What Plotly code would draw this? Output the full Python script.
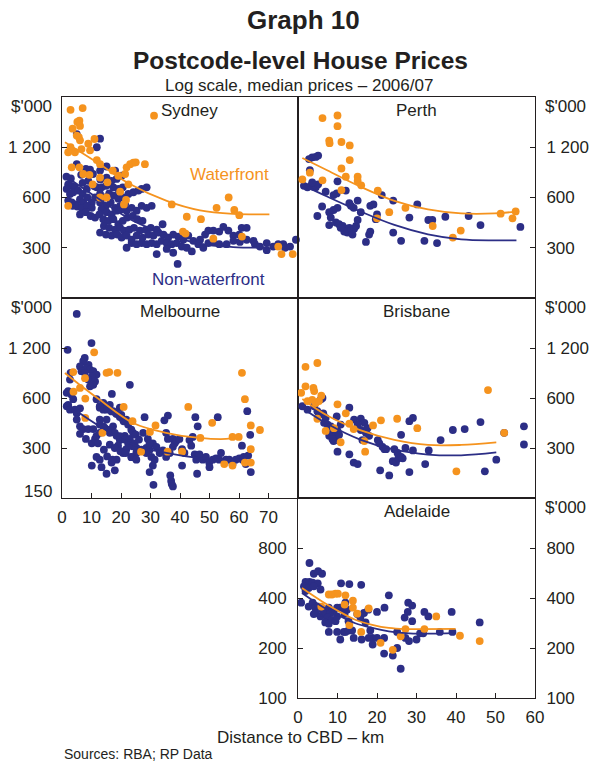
import math
import plotly.graph_objects as go

# ---------------- data: (distance to CBD km, median price $'000) ----------------
SYD_NONWATER = [
    (5, 1440), (12.9, 1350), (11.8, 1200), (5, 950), (8.1, 890), (15.1, 920), (18, 870), (12.9, 870), (8.9, 755),
    (2.1, 720), (3.3, 705), (4.4, 690), (1.6, 675), (2.7, 630), (3.8, 645), (5.5, 660), (7, 630), (8.4, 675),
    (2.1, 575), (3.3, 560), (4.7, 545), (6.1, 585), (7.2, 560), (8.6, 600), (10.1, 560), (11.2, 600),
    (3.6, 535), (5.2, 530), (6.7, 520), (8.6, 535), (10.1, 520),
    (11.8, 690), (13.4, 690), (14.9, 705), (16.3, 720), (17.4, 690), (19.1, 675), (20.6, 690),
    (12.9, 630), (14.6, 600), (16, 635), (17.6, 615), (19.1, 590), (20.8, 600), (22.5, 630), (24.2, 645),
    (25.9, 660), (27, 675), (28.7, 690),
    (15.1, 790), (16.8, 755), (18.5, 775), (20.2, 810),
    (12.9, 560), (14.9, 535), (16.5, 560), (18, 520), (19.7, 535), (21.4, 550),
    (13.4, 510), (15.1, 490), (16.8, 475), (18.5, 500), (20.2, 510), (21.9, 500), (23.6, 520), (25.3, 500),
    (27, 535), (28.7, 520), (30.4, 535),
    (6.1, 475), (8.1, 490), (9.7, 465), (11.2, 455), (12.7, 475),
    (14, 445), (15.7, 435), (17.4, 445), (19.1, 415), (20.6, 435), (22.1, 455), (24, 465), (25.5, 445), (27.3, 435),
    (14.2, 405), (16, 395), (18, 385), (19.7, 395), (21, 380), (22.8, 385), (24.4, 395), (26.4, 380), (28.4, 385),
    (30.1, 395), (32.1, 385), (34.1, 415),
    (12.9, 370), (14.9, 360), (16.8, 355), (18.8, 360), (20.2, 345), (21.9, 355), (23.6, 335), (25.3, 355),
    (27.3, 345), (29.3, 360), (31, 355), (32.7, 370), (34.4, 360), (36, 345), (37.7, 360), (39.4, 350),
    (41.1, 335), (42.8, 355), (44.5, 330), (46.8, 335), (48.5, 360), (49.6, 380), (51.3, 380), (53.3, 375),
    (54.7, 400), (56.4, 380), (58.1, 355), (60.1, 360), (60.9, 395), (62.6, 395),
    (21.9, 300), (23.6, 320), (25.3, 315), (27, 320), (28.7, 315), (30.4, 320), (32.1, 315), (33.8, 330),
    (35.5, 320), (37.2, 315), (38.9, 320), (40.6, 305), (42.3, 300), (44, 285), (46.2, 315), (47.9, 300),
    (49.6, 320), (51.3, 325), (53.3, 315), (55.8, 315), (58.1, 330), (60.3, 325), (62.6, 335), (64.9, 330),
    (65.4, 315), (67.1, 305), (69.4, 320), (69.4, 290), (71.6, 305), (73.3, 315), (75, 315), (75.6, 300),
    (77.3, 305), (79.3, 335),
    (32.1, 275), (39.2, 240), (37.7, 280), (35.5, 295),
    (1.5, 800), (3, 780), (6.5, 820), (9.5, 880), (10.5, 830), (7, 735), (11, 700), (13, 770),
]
SYD_WATER = [
    (5, 2410), (2.9, 2010), (7, 2060), (5.2, 1700), (5.9, 1730), (3.6, 1550), (6.1, 1610), (5, 1410), (5.7, 1380),
    (6.1, 1320), (11, 1345), (2.9, 1200), (2.1, 1120), (4.4, 1120), (6.6, 1170), (8.9, 1260), (9.5, 1150),
    (11.8, 1005), (12.9, 950), (3.3, 910), (5.9, 910), (7.2, 830), (9.3, 820), (10.4, 720), (12.9, 790),
    (15.4, 740), (15.1, 600), (17.2, 870), (19.1, 810), (21.4, 830), (21.9, 910), (23.1, 950), (24.2, 970),
    (25, 975), (28.1, 950), (22.5, 720), (19.7, 650), (21.7, 580), (21, 545), (2.1, 535), (12.9, 600),
    (31.2, 1855), (37.2, 545), (42.3, 460), (41, 375), (41.9, 365), (47.1, 445), (51.3, 340), (52.4, 520),
    (56.5, 600), (58.4, 505), (60.1, 470), (61, 350), (73.3, 305), (74.4, 275), (78.2, 275),
]
SYD_FIT_W_KM = [1, 11.8, 23, 35.5, 46.8, 58, 70.3]
SYD_FIT_W = [1286, 975, 722, 572, 502, 479, 476]
SYD_FIT_N_KM = [1, 12.9, 24.2, 35.5, 46.8, 58, 70]
SYD_FIT_N = [810, 582, 434, 361, 317, 303, 300]

PER_NONWATER = [
    (2.8, 1020), (3.6, 1045), (4.5, 1050), (5.1, 1070), (3, 875), (1.5, 705), (2.4, 690), (3.2, 705), (3.9, 695),
    (4.5, 690), (5.1, 720), (3.6, 740), (7, 650), (9, 620), (9.8, 635), (10, 750), (12.1, 660), (13, 555),
    (13.4, 535), (15.1, 575), (14.1, 520), (10, 520), (9, 505), (7.9, 490), (8.3, 455), (7.9, 410), (9.6, 425),
    (10.4, 415), (11.3, 405), (12.1, 390), (12.5, 370), (13, 395), (13.4, 380), (14.2, 390), (14.7, 405),
    (13.8, 360), (11.7, 375), (10.8, 395), (15.1, 440), (6.1, 530), (4.9, 465), (15.9, 490), (17.2, 325),
    (18, 360), (18.3, 375), (18.3, 535), (19.1, 545), (20, 475), (19.7, 445), (21.2, 620), (24.1, 575),
    (24.1, 370), (26.1, 330), (28.2, 455), (30.2, 545), (32, 330), (33, 440), (34, 440), (35.2, 320),
    (37.3, 460), (43.2, 465), (46.2, 410), (56.3, 400),
]
PER_WATER = [
    (6.2, 1795), (10, 1860), (10, 1605), (7.9, 1315), (8, 1270), (11, 1290), (13.1, 1230), (13.1, 1005),
    (11, 895), (12.1, 800), (15.1, 800), (15.1, 755), (16, 710), (1.1, 770), (3, 845), (6.2, 760), (11, 665),
    (20.2, 660), (20, 450), (23.1, 490), (27.2, 520), (34.1, 405), (39.2, 345), (41.2, 380), (51.3, 480),
    (55.1, 495), (54.3, 450),
]
PER_FIT_KM = [1.1, 7.5, 15.9, 24.4, 32.9, 41.3, 49.8, 55.3]
PER_FIT_W = [1035, 870, 695, 573, 509, 482, 482, 494]
PER_FIT_N = [714, 606, 494, 411, 361, 337, 332, 332]

MEL_NONWATER = [
    (5, 1925), (1.9, 1170), (10, 1285),
    (7.7, 1045), (7.2, 1000), (9, 950), (6.1, 930), (8.3, 910), (9.5, 890), (10.6, 870), (11.7, 830), (10.1, 810),
    (6.6, 870), (7.7, 850), (8.9, 775), (11.2, 755), (10.6, 720), (9.5, 705),
    (2.9, 850), (2.7, 775), (2.1, 660), (1.6, 645), (3.2, 630), (3.8, 590), (2.1, 545), (1.6, 535), (2.7, 510),
    (4.4, 510), (6.1, 520), (5, 485),
    (5, 445), (6.1, 405), (7.2, 390), (8.9, 390), (6.1, 365), (8.1, 340),
    (10.1, 320), (11.2, 340), (11.7, 355), (12.8, 370), (14, 405), (15.1, 445), (10.6, 390), (12.8, 445),
    (12.2, 320), (11.7, 265), (12.8, 255), (13.4, 230), (15.1, 210), (16.8, 245), (18.5, 255), (17.9, 220),
    (10.1, 235),
    (11.7, 590), (14, 560), (16.2, 545), (12.8, 525), (15.1, 510), (17.3, 500), (18.5, 480), (19.6, 525),
    (20.1, 475), (20.7, 445), (21.8, 445), (17.3, 405), (16.2, 370), (18.5, 355), (19.6, 335), (21.3, 355),
    (21.8, 295), (23, 340), (24.1, 370), (24.6, 320), (25.2, 280), (23.6, 265), (20.7, 280), (19, 310),
    (23, 720), (16.9, 635), (28, 460),
    (12.8, 535), (14, 510), (15.3, 522), (16.8, 498), (18.2, 487), (19.6, 461), (20.9, 434), (22.4, 415),
    (23.5, 387), (25, 361), (26.1, 337), (12.8, 415), (14.5, 396), (16.2, 387), (17.9, 370), (19.6, 353),
    (21.3, 337), (22.4, 321), (23.9, 307), (25.2, 300), (26.9, 293), (28.6, 300), (29.7, 293), (16.2, 314),
    (17.9, 300), (19.8, 287), (21.6, 280), (23.5, 264), (25.2, 255), (15.3, 267), (17.1, 255), (14.2, 293),
    (27.5, 370), (29.1, 340), (30.8, 320), (32, 305), (33.1, 280), (29.7, 320), (28.6, 280), (30.3, 265),
    (31.4, 255), (34.2, 290), (35.3, 265), (36.5, 280), (37.6, 305), (38.2, 320), (35.9, 340), (35.3, 370),
    (35.9, 470), (34.7, 440), (37.6, 340), (38.7, 330), (39.8, 340), (40.7, 295), (41.5, 280), (43.2, 335),
    (44.3, 350), (43.8, 310), (45, 275), (45.5, 255), (46.6, 275), (47.7, 255), (48.8, 265), (49.9, 245),
    (51.1, 255), (52.2, 260), (53.3, 255), (53.9, 280), (55.6, 255), (56.7, 255), (57.8, 240), (58.9, 255),
    (60.1, 260), (61.2, 255), (62.3, 240), (63.1, 270), (64, 215),
    (31, 180), (29.7, 215), (30.8, 235), (37, 190), (37.2, 182), (37.6, 176), (36.7, 205), (40.7, 235),
    (45.8, 210), (50, 230),
    (45.2, 460), (46, 405), (52.8, 460),
    (62.8, 500), (63.8, 360), (61, 310), (61.6, 265),
]
MEL_WATER = [
    (10.9, 1130), (3.8, 860), (15.1, 850), (16, 860), (18.8, 850), (7.8, 790), (6.1, 690), (3.9, 655), (7.9, 595),
    (7.9, 455), (20.9, 530), (23.9, 435), (13.7, 370), (29.8, 375), (31.7, 410), (26.8, 285), (35.8, 285),
    (40.7, 285), (42.8, 530), (50.9, 425), (46.9, 345), (55, 240), (57.8, 235), (57.8, 350), (59.9, 350),
    (61, 850), (62, 590), (64, 410), (67.1, 385), (64, 295), (62, 245), (64, 245),
]
MEL_FIT_W_KM = [1, 7.2, 12.8, 24.1, 35.3, 46.6, 55.6, 60.1]
MEL_FIT_W = [849, 694, 585, 424, 370, 345, 340, 349]
MEL_FIT_N_KM = [1, 12.8, 24.1, 35.3, 46.6, 60.1]
MEL_FIT_N = [560, 405, 314, 280, 261, 255]

BRI_NONWATER = [
    (6.2, 600), (4.9, 500), (5.3, 475), (7, 455), (6.6, 425), (7.5, 415), (8.3, 405), (8.7, 370), (9.1, 355),
    (9.6, 335), (9, 330), (10, 380), (10.4, 360), (9.8, 465), (10.8, 415), (7.9, 355), (8.7, 340), (13, 525),
    (14.2, 445), (15.9, 450), (16.8, 425), (15.1, 415), (15.9, 385), (17.6, 395), (17.2, 370), (18, 355),
    (16.3, 335), (20.2, 335), (20.6, 320), (21.4, 305), (21.9, 295), (22.3, 295), (13, 275), (14.1, 245),
    (15.1, 240), (10, 285), (20.8, 220), (23.1, 205), (24, 250), (24.8, 245), (25.4, 260), (24.4, 295),
    (25.2, 280), (26.1, 265), (26.5, 260), (27.2, 300), (26.1, 360), (28.2, 435), (29.1, 455), (29.1, 290),
    (28.2, 215), (32.2, 240), (33.1, 290), (36.1, 335), (39.2, 385), (42.2, 390), (46.2, 430), (47.3, 217),
    (50.2, 255), (52.2, 370), (57.2, 405), (57.2, 315),
    (1.1, 535), (2.4, 510), (4.1, 535), (5.8, 590), (6.4, 485),
]
BRI_WATER = [
    (1.9, 925), (4.9, 975), (0.8, 645), (1.9, 705), (3.9, 690), (4.1, 660), (5.9, 620), (2.4, 575), (3.6, 585),
    (4.5, 560), (5.3, 575), (4.9, 450), (7, 380), (9.1, 395), (10, 550), (12.1, 485), (10.8, 325), (13, 420),
    (14.1, 390), (16.8, 330), (17, 285), (19, 410), (21, 440), (25.1, 450), (30.2, 395), (40.1, 217),
    (48.1, 670), (52.2, 370),
]
BRI_FIT_KM = [1.1, 7.5, 15.9, 24.4, 32.9, 41.3, 50.2]
BRI_FIT_W = [592, 469, 383, 336, 313, 313, 324]
BRI_FIT_N = [523, 418, 336, 293, 274, 271, 282]

ADE_NONWATER = [
    (2.9, 650), (1.9, 500), (2.9, 500), (3.7, 495), (5, 490), (4, 560), (5.1, 580), (6.1, 560), (1.5, 470),
    (2.7, 460), (4, 470), (5.7, 450), (1.9, 440), (0.8, 375), (2.7, 355), (3.7, 375), (4.4, 350), (5.2, 355),
    (6.1, 340), (4, 320), (4.4, 325), (5.7, 310), (6.5, 325), (6.9, 330), (7.8, 350), (8.2, 325), (7.4, 305),
    (6.9, 285), (7.8, 280), (8.6, 295), (9.5, 290), (9.9, 310), (9, 330), (9.9, 350), (10.7, 350), (11.6, 345),
    (7.8, 250), (10.9, 490), (13, 485), (16, 480), (12, 375), (12.4, 340), (11.8, 320), (12.8, 290), (9.9, 250),
    (10.7, 225), (11.6, 250), (12, 250), (12.8, 255), (13.7, 255), (14.1, 230), (15, 320), (15.8, 305),
    (16.7, 325), (17.1, 285), (17.8, 340), (18.3, 255), (18.8, 230), (17.9, 230), (18.9, 210), (16.1, 225),
    (20, 330), (20, 230), (21.8, 230), (21.9, 350), (23, 415), (21.8, 185), (24, 180), (25.1, 200), (26, 150),
    (25.1, 250), (27, 305), (27.9, 375), (27.8, 330), (28.9, 360), (28.9, 290), (27.2, 230), (28.1, 220),
    (30, 225), (30.9, 245), (31.7, 245), (32, 330), (33, 310), (35.9, 250), (38.9, 330), (39.1, 250), (46, 285),
]
ADE_WATER = [
    (5.9, 355), (7.8, 420), (8.6, 420), (9.5, 425), (10.1, 425), (12, 415), (11.8, 365), (13.9, 385),
    (13.9, 350), (15, 322), (13, 275), (16, 250), (17.9, 346), (20.9, 215), (24, 195), (26, 235), (27.2, 260),
    (32, 260), (35, 310), (41, 237), (46, 220),
]
ADE_FIT_KM = [1, 6.1, 10.3, 14.5, 18.8, 23, 27.2, 31.4, 39.9]
ADE_FIT_W = [459, 381, 333, 296, 276, 264, 260, 260, 261]
ADE_FIT_N = [429, 356, 314, 282, 264, 252, 246, 244, 246]

PANELS = ["Sydney", "Perth", "Melbourne", "Brisbane", "Adelaide"]
TICKS_A = [300, 600, 1200]
TICKS_A_TEXT = ["300", "600", "1 200"]
TICKS_B = [100, 200, 400, 800]
TICKS_B_TEXT = ["100", "200", "400", "800"]
X_TICKS_MEL = [0, 10, 20, 30, 40, 50, 60, 70]
X_TICKS_ADE = [0, 10, 20, 30, 40, 50, 60]

# ---------------- styling ----------------
ORANGE = "#F5931E"
NAVY = "#2C2E86"
INK = "#231F20"
FONT = "Liberation Sans, Arial, Helvetica, sans-serif"
FS = 17
MS = 7.8

fig = go.Figure()


def unzip(pairs):
    return [p[0] for p in pairs], [p[1] for p in pairs]


def add_panel(xa, ya, nonwater, water, fit_n_km, fit_n, fit_w_km, fit_w):
    xs, ys = unzip(nonwater)
    fig.add_trace(go.Scatter(x=xs, y=ys, mode="markers", xaxis=xa, yaxis=ya,
                             marker=dict(color=NAVY, size=MS, line=dict(width=0)),
                             cliponaxis=False, hoverinfo="skip"))
    xs, ys = unzip(water)
    fig.add_trace(go.Scatter(x=xs, y=ys, mode="markers", xaxis=xa, yaxis=ya,
                             marker=dict(color=ORANGE, size=MS, line=dict(width=0)),
                             cliponaxis=False, hoverinfo="skip"))
    fig.add_trace(go.Scatter(x=fit_n_km, y=fit_n, mode="lines", xaxis=xa, yaxis=ya,
                             line=dict(color=NAVY, width=1.8, shape="spline"), hoverinfo="skip"))
    fig.add_trace(go.Scatter(x=fit_w_km, y=fit_w, mode="lines", xaxis=xa, yaxis=ya,
                             line=dict(color=ORANGE, width=1.8, shape="spline"), hoverinfo="skip"))


add_panel("x", "y", SYD_NONWATER, SYD_WATER, SYD_FIT_N_KM, SYD_FIT_N, SYD_FIT_W_KM, SYD_FIT_W)
add_panel("x2", "y2", PER_NONWATER, PER_WATER, PER_FIT_KM, PER_FIT_N, PER_FIT_KM, PER_FIT_W)
add_panel("x3", "y3", MEL_NONWATER, MEL_WATER, MEL_FIT_N_KM, MEL_FIT_N, MEL_FIT_W_KM, MEL_FIT_W)
add_panel("x4", "y4", BRI_NONWATER, BRI_WATER, BRI_FIT_KM, BRI_FIT_N, BRI_FIT_KM, BRI_FIT_W)
add_panel("x5", "y5", ADE_NONWATER, ADE_WATER, ADE_FIT_KM, ADE_FIT_N, ADE_FIT_KM, ADE_FIT_W)

XL = [0, 236 / 473]
XR = [236 / 473, 1]
YT = [400 / 601, 1]
YM = [200 / 601, 400 / 601]
YB = [0, 200 / 601]

base = dict(showgrid=False, zeroline=False, showline=True, linecolor=INK, linewidth=1,
            mirror=True, tickcolor=INK, ticklen=5, tickwidth=1, automargin=False,
            tickfont=dict(family=FONT, size=FS, color=INK), ticklabelstandoff=7)


def xax(domain, rng, anchor, tickvals=None):
    d = dict(base, domain=domain, range=rng, anchor=anchor)
    if tickvals is None:
        d.update(ticks="", showticklabels=False)
    else:
        d.update(ticks="inside", tickvals=tickvals, ticktext=[str(v) for v in tickvals], ticklabelstandoff=4)
    return d


def yax(domain, rng, anchor, side, tickvals, ticktext):
    return dict(base, domain=domain, type="log", range=[math.log10(rng[0]), math.log10(rng[1])],
                anchor=anchor, side=side, ticks="inside", tickvals=tickvals, ticktext=ticktext)


fig.update_layout(
    xaxis=xax(XL, [0, 80], "y"),
    yaxis=yax(YT, [150, 2400], "x", "left", TICKS_A, TICKS_A_TEXT),
    xaxis2=xax(XR, [0, 60], "y2"),
    yaxis2=yax(YT, [150, 2400], "x2", "right", TICKS_A, TICKS_A_TEXT),
    xaxis3=xax(XL, [0, 80], "y3", X_TICKS_MEL),
    yaxis3=yax(YM, [150, 2400], "x3", "left", TICKS_A, TICKS_A_TEXT),
    xaxis4=xax(XR, [0, 60], "y4"),
    yaxis4=yax(YM, [150, 2400], "x4", "right", TICKS_A, TICKS_A_TEXT),
    xaxis5=xax(XR, [0, 60], "y5", X_TICKS_ADE),
    yaxis5=yax(YB, [100, 1600], "x5", "left", TICKS_B, TICKS_B_TEXT),
    yaxis6=dict(yax(YB, [100, 1600], "x5", "right", TICKS_B, TICKS_B_TEXT), overlaying="y5"),
)

ann = []
txt = dict(family=FONT, size=FS, color=INK)

# panel names
name_pos = [("x", "y", 0.542), ("x2", "y2", 0.5), ("x3", "y3", 0.5), ("x4", "y4", 0.5), ("x5", "y5", 0.5)]
for name, (xa, ya, fx) in zip(PANELS, name_pos):
    ann.append(dict(text=name, xref=f"{xa} domain", yref=f"{ya} domain", x=fx, y=1, xanchor="center",
                    yanchor="top", yshift=-2, showarrow=False, font=txt))

# unit labels
for xa, ya, side, top in [("x", "y", "left", 2400), ("x2", "y2", "right", 2400), ("x3", "y3", "left", 2400),
                          ("x4", "y4", "right", 2400), ("x5", "y6", "right", 1600)]:
    ann.append(dict(text="$'000", xref=f"{xa} domain", yref=ya, x=0 if side == "left" else 1,
                    y=math.log10(top), xanchor="right" if side == "left" else "left", yanchor="middle",
                    xshift=-8 if side == "left" else 8, yshift=-9, showarrow=False, font=txt))
# bottom label of Melbourne axis
ann.append(dict(text="150", xref="x3 domain", yref="y3", x=0, y=math.log10(150), xanchor="right",
                yanchor="middle", xshift=-8, yshift=7, showarrow=False, font=txt))

# series labels
ann.append(dict(text="Waterfront", xref="x", yref="y", x=56.9, y=math.log10(825), showarrow=False,
                font=dict(family=FONT, size=FS, color=ORANGE)))
ann.append(dict(text="Non-waterfront", xref="x", yref="y", x=49.5, y=math.log10(193), showarrow=False,
                font=dict(family=FONT, size=FS, color=NAVY)))

# titles
PH = 601.0


def py(p):
    return 1 + (97 - p) / PH


ann.append(dict(text="<b>Graph 10</b>", xref="paper", yref="paper", x=(303 - 62) / 473, y=py(20),
                xanchor="center", yanchor="middle", showarrow=False,
                font=dict(family=FONT, size=26, color=INK)))
ann.append(dict(text="<b>Postcode-level House Prices</b>", xref="paper", yref="paper", x=(300 - 62) / 473,
                y=py(60), xanchor="center", yanchor="middle", showarrow=False,
                font=dict(family=FONT, size=24.5, color=INK)))
ann.append(dict(text="Log scale, median prices – 2006/07", xref="paper", yref="paper", x=(299 - 62) / 473,
                y=py(85), xanchor="center", yanchor="middle", showarrow=False,
                font=dict(family=FONT, size=FS, color=INK)))
ann.append(dict(text="Distance to CBD – km", xref="paper", yref="paper", x=(300 - 62) / 473, y=py(737),
                xanchor="center", yanchor="middle", showarrow=False, font=txt))
ann.append(dict(text="Sources: RBA; RP Data", xref="paper", yref="paper", x=0, y=py(754),
                xanchor="left", yanchor="middle", showarrow=False,
                font=dict(family=FONT, size=14, color=INK)))

fig.update_layout(
    width=594, height=762,
    margin=dict(l=62, r=59, t=97, b=64, pad=0, autoexpand=False),
    paper_bgcolor="white", plot_bgcolor="white",
    showlegend=False,
    annotations=ann,
    font=dict(family=FONT, color=INK),
)

fig.write_html("out.html",
               config={"displayModeBar": False, "staticPlot": True},
               post_script="document.body.style.margin='0px';document.body.style.padding='0px';"
                           "document.body.style.overflow='hidden';")
